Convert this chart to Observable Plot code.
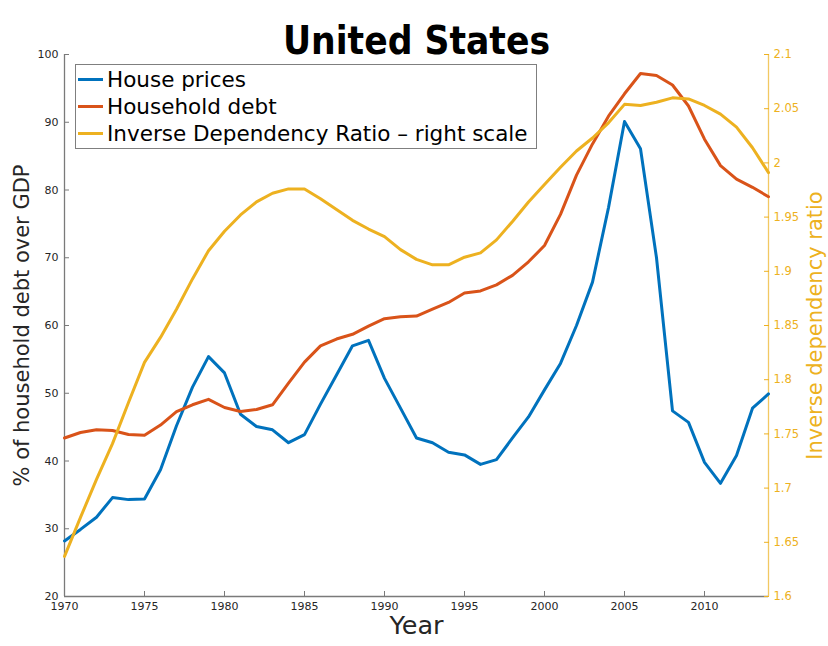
<!DOCTYPE html>
<html>
<head>
<meta charset="utf-8">
<script src="https://cdn.jsdelivr.net/npm/d3@7"></script>
<script src="https://cdn.jsdelivr.net/npm/@observablehq/plot@0.6"></script>
<style>
  body { margin: 0; background: #fff; }
  #wrap { position: relative; width: 828px; height: 646px; }
  #legend {
    position: absolute; left: 75px; top: 64px; width: 462px; height: 85px;
    box-sizing: border-box; border: 1px solid #7f7f7f; background: #fff;
    font-family: "DejaVu Sans", sans-serif; font-size: 21.5px; color: #000;
    padding-top: 1px;
  }
  #legend .row { display: flex; align-items: center; height: 27px; white-space: nowrap; }
  #legend .sw { width: 25px; height: 3px; margin-left: 2px; margin-right: 4px; }
</style>
</head>
<body>
<div id="wrap"></div>
<script>
// ---- data ----
const years = d3.range(1970, 2015);
const housePrices = [28.2, 29.9, 31.7, 34.6, 34.3, 34.4, 38.7, 45.2, 50.9, 55.4,
  53.0, 46.9, 45.1, 44.6, 42.7, 43.9, 48.4, 52.7, 57.0, 57.8,
  52.2, 47.8, 43.4, 42.7, 41.3, 40.9, 39.5, 40.2, 43.4, 46.5,
  50.5, 54.4, 60.0, 66.4, 77.4, 90.1, 86.1, 70.0, 47.4, 45.7,
  39.8, 36.7, 40.8, 47.8, 49.9];
const householdDebt = [43.4, 44.2, 44.6, 44.5, 43.9, 43.8, 45.3, 47.3, 48.3, 49.1,
  47.9, 47.3, 47.6, 48.3, 51.5, 54.6, 57.0, 58.0, 58.7, 59.9,
  61.0, 61.3, 61.4, 62.4, 63.4, 64.8, 65.1, 66.0, 67.4, 69.4,
  71.8, 76.4, 82.2, 86.8, 90.9, 94.2, 97.2, 96.9, 95.5, 92.4,
  87.5, 83.6, 81.6, 80.4, 79.0];
const inverseDependencyRatio = [1.637, 1.673, 1.708, 1.741, 1.779, 1.816, 1.839, 1.865, 1.893, 1.919,
  1.937, 1.952, 1.964, 1.972, 1.976, 1.976, 1.967, 1.957, 1.947, 1.939,
  1.932, 1.920, 1.911, 1.906, 1.906, 1.913, 1.917, 1.929, 1.946, 1.964,
  1.980, 1.996, 2.011, 2.023, 2.037, 2.054, 2.053, 2.056, 2.060, 2.059,
  2.053, 2.045, 2.033, 2.014, 1.991];
const xTicks = [1970, 1975, 1980, 1985, 1990, 1995, 2000, 2005, 2010];
const leftTicks = [20, 30, 40, 50, 60, 70, 80, 90, 100];
const rightTicks = [1.6, 1.65, 1.7, 1.75, 1.8, 1.85, 1.9, 1.95, 2, 2.05, 2.1];
const seriesNames = ["House prices", "Household debt", "Inverse Dependency Ratio \u2013 right scale"];
const seriesColors = ["#0072BD", "#D95319", "#EDB120"];

// right scale [1.6, 2.1] mapped onto left scale [20, 100]
const leftDomain = [20, 100], rightDomain = [1.6, 2.1];
const toLeft = r => leftDomain[0] + (r - rightDomain[0]) * (leftDomain[1] - leftDomain[0]) / (rightDomain[1] - rightDomain[0]);
const toRight = v => rightDomain[0] + (v - leftDomain[0]) * (rightDomain[1] - rightDomain[0]) / (leftDomain[1] - leftDomain[0]);

const rows = years.map((year, i) => ({
  year, house: housePrices[i], debt: householdDebt[i], idr: toLeft(inverseDependencyRatio[i])
}));

const FONT = "DejaVu Sans";
const plot = Plot.plot({
  width: 828, height: 646,
  marginTop: 54, marginBottom: 50, marginLeft: 64, marginRight: 60,
  style: { fontFamily: FONT, background: "#fff", overflow: "visible" },
  x: { domain: [1970, 2014] },
  y: { domain: leftDomain },
  marks: [
    // axis lines
    Plot.ruleX([1970], { stroke: "#7a7a7a", strokeWidth: 1.3 }),
    Plot.ruleX([2014], { stroke: "#EDB120", strokeOpacity: 0.7, strokeWidth: 1.3 }),
    Plot.ruleY([20], { stroke: "#7a7a7a", strokeWidth: 1.6 }),
    // axes
    Plot.axisX({ ticks: xTicks, tickFormat: d => String(d), tickSize: -5, tickPadding: 11,
      fontSize: 11, fill: "#262626", stroke: "#7a7a7a", label: null }),
    Plot.axisY({ ticks: leftTicks, tickSize: -5, tickPadding: 11,
      fontSize: 11, fill: "#262626", stroke: "#7a7a7a", label: null }),
    Plot.axisY({ anchor: "right", ticks: rightTicks.map(toLeft), tickSize: -5, tickPadding: 10,
      tickFormat: v => String(+toRight(v).toFixed(2)),
      fontSize: 11.5, fill: "#EDB120", stroke: "#EDB120", label: null }),
    // series
    Plot.line(rows, { x: "year", y: "house", stroke: seriesColors[0], strokeWidth: 3 }),
    Plot.line(rows, { x: "year", y: "debt", stroke: seriesColors[1], strokeWidth: 3 }),
    Plot.line(rows, { x: "year", y: "idr", stroke: seriesColors[2], strokeWidth: 3 }),
    // titles
    Plot.text(["United States"], { frameAnchor: "top", dy: -28, fontSize: 38.5, fontWeight: "bold",
      fontFamily: "Liberation Sans Narrow, DejaVu Sans Condensed, sans-serif", fill: "#000" }),
    Plot.text(["Year"], { frameAnchor: "bottom", dy: 37.5, fontSize: 25.5, fill: "#262626" }),
    Plot.text(["% of household debt over GDP"], { frameAnchor: "left", textAnchor: "middle", rotate: -90, dx: -42, fontSize: 21, fill: "#262626" }),
    Plot.text(["Inverse dependency ratio"], { frameAnchor: "right", textAnchor: "middle", rotate: -90, dx: 47, fontSize: 21, fill: "#EDB120" })
  ]
});
const wrap = document.getElementById("wrap");
wrap.appendChild(plot);

const legend = document.createElement("div");
legend.id = "legend";
seriesNames.forEach((name, i) => {
  const row = document.createElement("div");
  row.className = "row";
  const sw = document.createElement("span");
  sw.className = "sw";
  sw.style.background = seriesColors[i];
  const label = document.createElement("span");
  label.textContent = name;
  row.appendChild(sw); row.appendChild(label);
  legend.appendChild(row);
});
wrap.appendChild(legend);
</script>
</body>
</html>
